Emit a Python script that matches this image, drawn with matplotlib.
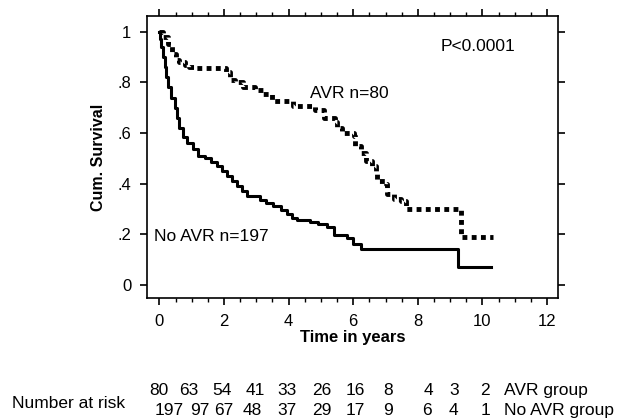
import numpy as np
import matplotlib
matplotlib.use("Agg")
import matplotlib.pyplot as plt
from matplotlib.ticker import MultipleLocator

# survival curves (time in years, cum. survival)
avr_t = [0, 0.1, 0.26, 0.4, 0.5, 0.62, 0.8, 0.93, 1.09, 2.05, 2.2, 2.35, 2.6, 2.96,
         3.22, 3.5, 4.15, 4.83, 5.09, 5.45, 5.5, 5.66, 6.02, 6.07, 6.23, 6.39, 6.59,
         6.7, 6.75, 7.0, 7.06, 7.27, 7.48, 7.63, 9.33, 10.33]
avr_s = [1.0, 0.98, 0.95, 0.91, 0.89, 0.88, 0.87, 0.86, 0.855, 0.84, 0.81, 0.80, 0.78,
         0.77, 0.755, 0.725, 0.705, 0.69, 0.66, 0.645, 0.62, 0.60, 0.587, 0.55, 0.52,
         0.49, 0.47, 0.44, 0.41, 0.40, 0.36, 0.34, 0.33, 0.30, 0.19, 0.19]

noavr_t = [0, 0.02, 0.05, 0.1, 0.16, 0.21, 0.26, 0.35, 0.47, 0.55, 0.62, 0.73, 0.85,
           1.04, 1.2, 1.4, 1.6, 1.77, 1.95, 2.08, 2.25, 2.39, 2.55, 2.7, 3.11, 3.3,
           3.53, 3.75, 3.94, 4.1, 4.26, 4.67, 4.9, 5.19, 5.4, 5.81, 6.0, 6.23, 9.26, 10.28]
noavr_s = [1.0, 0.97, 0.94, 0.90, 0.86, 0.82, 0.78, 0.74, 0.70, 0.66, 0.62, 0.585, 0.56,
           0.535, 0.51, 0.50, 0.485, 0.47, 0.45, 0.43, 0.41, 0.39, 0.37, 0.35, 0.335,
           0.325, 0.31, 0.295, 0.28, 0.265, 0.256, 0.25, 0.24, 0.23, 0.197, 0.184, 0.16,
           0.14, 0.072, 0.072]

y_ticks = [0, 0.2, 0.4, 0.6, 0.8, 1.0]
y_labels = ["0", ".2", ".4", ".6", ".8", "1"]
x_ticks = [0, 2, 4, 6, 8, 10, 12]

risk_avr = [80, 63, 54, 41, 33, 26, 16, 8, 4, 3, 2]
risk_noavr = [197, 97, 67, 48, 37, 29, 17, 9, 6, 4, 1]

plt.rcParams["font.family"] = ["Liberation Sans", "DejaVu Sans"]

W, H = 620, 419
fig = plt.figure(figsize=(W / 100, H / 100), dpi=100)
ax = fig.add_axes([146.5 / W, 1 - 298.3 / H, (558.3 - 146.5) / W, (298.3 - 16) / H])

ax.plot(avr_t, avr_s, drawstyle="steps-post", color="black", lw=3.5,
        linestyle=(0, (1, 0.9)))
ax.plot(noavr_t, noavr_s, drawstyle="steps-post", color="black", lw=2.2)

ax.set_xlim(-0.40, 12.35)
ax.set_ylim(-0.053, 1.062)
ax.set_xticks(x_ticks)
ax.xaxis.set_minor_locator(MultipleLocator(0.5))
ax.set_yticks(y_ticks)
ax.set_yticklabels(y_labels)
ax.tick_params(axis="both", which="major", direction="out", length=5, width=1.2,
               labelsize=12, top=True, right=True, pad=6)
ax.tick_params(axis="x", which="minor", direction="out", length=3, width=1,
               top=True)
for sp in ax.spines.values():
    sp.set_linewidth(1.2)

ax.set_xlabel("Time in years", fontsize=12, fontweight="bold", labelpad=1)
ax.set_ylabel("Cum. Survival", fontsize=11.5, fontweight="bold", labelpad=8)

ax.text(9.85, 0.94, "P<0.0001", fontsize=12.5, ha="center", va="center")
ax.text(4.66, 0.757, "AVR n=80", fontsize=12.5, ha="left", va="center")
ax.text(-0.17, 0.19, "No AVR n=197", fontsize=12.5, ha="left", va="center")

# number at risk table below the chart
col_x = [159, 189, 222, 255, 287, 322, 355, 388, 428, 454, 485]
noavr_x = [169, 200, 224, 252, 287, 322, 355, 388, 427, 453, 485]
for x, n in zip(col_x, risk_avr):
    fig.text(x / W, 1 - 390 / H, str(n), fontsize=12.5, ha="center", va="center")
for x, n in zip(noavr_x, risk_noavr):
    fig.text(x / W, 1 - 410 / H, str(n), fontsize=12.5, ha="center", va="center")
fig.text(504 / W, 1 - 390 / H, "AVR group", fontsize=12.5, ha="left", va="center")
fig.text(504 / W, 1 - 410 / H, "No AVR group", fontsize=12.5, ha="left", va="center")
fig.text(12 / W, 1 - 403 / H, "Number at risk", fontsize=12.5, ha="left", va="center")

fig.savefig("out.png", dpi=100)
